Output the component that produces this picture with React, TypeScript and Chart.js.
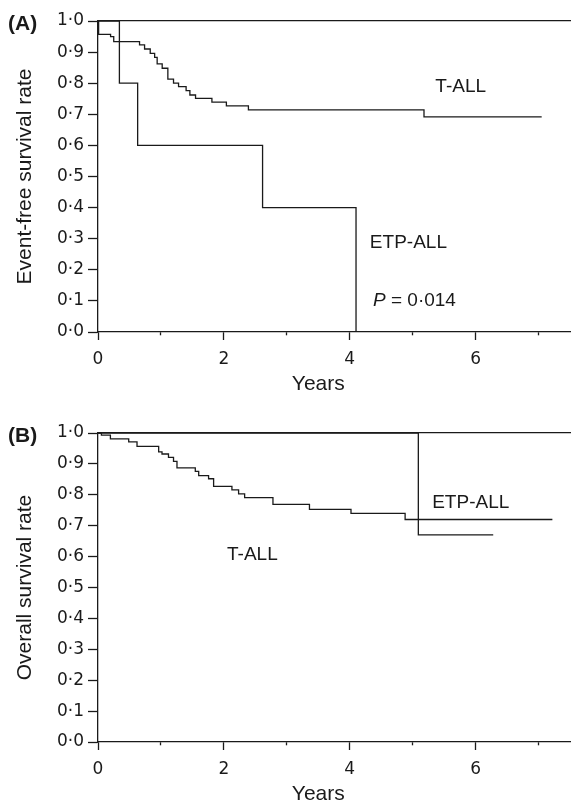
import React, { useEffect, useRef } from 'react';
import { Chart, registerables } from 'chart.js';

Chart.register(...registerables);

// ---------- data ----------
const xTickValues = [0, 1, 2, 3, 4, 5, 6, 7];
const xTickLabels = ['0', '', '2', '', '4', '', '6', ''];
const yTickValues = [0, 0.1, 0.2, 0.3, 0.4, 0.5, 0.6, 0.7, 0.8, 0.9, 1.0];
const yTickLabels = ['0·0', '0·1', '0·2', '0·3', '0·4', '0·5', '0·6', '0·7', '0·8', '0·9', '1·0'];

// (A) Event-free survival
const efsTallTimes = [0, 0.01, 0.2, 0.25, 0.66, 0.74, 0.83, 0.9, 0.94, 1.02, 1.11, 1.2, 1.28, 1.4, 1.46, 1.55, 1.81, 2.04, 2.39, 5.18, 7.05];
const efsTallValues = [1, 0.957, 0.95, 0.934, 0.923, 0.91, 0.896, 0.883, 0.862, 0.848, 0.813, 0.8, 0.789, 0.776, 0.762, 0.751, 0.739, 0.727, 0.714, 0.692, 0.692];
const efsEtpTimes = [0, 0.34, 0.63, 2.615, 4.1];
const efsEtpValues = [1, 0.8, 0.6, 0.4, 0];

// (B) Overall survival
const osTallTimes = [0, 0.054, 0.197, 0.488, 0.62, 0.964, 1.017, 1.12, 1.2, 1.255, 1.546, 1.6, 1.757, 1.837, 2.128, 2.234, 2.33, 2.78, 3.36, 4.02, 4.88, 7.22];
const osTallValues = [1, 0.993, 0.981, 0.971, 0.957, 0.939, 0.932, 0.921, 0.908, 0.887, 0.876, 0.862, 0.852, 0.827, 0.816, 0.803, 0.791, 0.769, 0.753, 0.74, 0.72, 0.72];
const osEtpTimes = [0, 5.09, 6.28];
const osEtpValues = [1, 0.67, 0.67];

const pValueText = '0·014';

// ---------- helpers ----------
const INK = '#1a1a1a';
const SANS = '"Liberation Sans", Arial, sans-serif';
const TICKFONT = '"DejaVu Sans", Verdana, sans-serif';

const toPoints = (t: number[], v: number[]) => t.map((x, i) => ({ x, y: v[i] }));

type Note = { text: string; x: number; y: number; italicPrefix?: string };

type PanelProps = {
  top: number;
  height: number;
  padTop: number;
  plotBottom: number;
  letter: string;
  letterY: number;
  yTitle: string;
  series: { times: number[]; values: number[] }[];
  notes: Note[];
};

function Panel(props: PanelProps) {
  const ref = useRef<HTMLCanvasElement | null>(null);
  useEffect(() => {
    if (!ref.current) return;
    const xAxisHeight = props.height - props.plotBottom;
    const textPlugin = {
      id: 'notes',
      afterDraw(chart: any) {
        const { ctx, scales } = chart;
        const xs = scales.x;
        const ys = scales.y;
        ctx.save();
        ctx.fillStyle = INK;
        ctx.textBaseline = 'middle';
        // panel letter
        ctx.font = `bold 21px ${SANS}`;
        ctx.textAlign = 'left';
        ctx.fillText(props.letter, 8, props.letterY);
        // curve notes
        ctx.font = `19px ${SANS}`;
        props.notes.forEach((n) => {
          let px = xs.getPixelForValue(n.x);
          const py = ys.getPixelForValue(n.y);
          if (n.italicPrefix) {
            ctx.font = `italic 19px ${SANS}`;
            ctx.fillText(n.italicPrefix, px, py);
            px += ctx.measureText(n.italicPrefix).width;
            ctx.font = `19px ${SANS}`;
          }
          ctx.fillText(n.text, px, py);
        });
        // x axis title
        ctx.font = `21px ${SANS}`;
        ctx.textAlign = 'center';
        ctx.fillText('Years', xs.getPixelForValue(3.5), chart.chartArea.bottom + 52);
        ctx.restore();
      },
    };
    const chart = new Chart(ref.current, {
      type: 'line',
      data: {
        datasets: props.series.map((s) => ({
          data: toPoints(s.times, s.values),
          stepped: 'before' as const,
          borderColor: INK,
          borderWidth: 1.3,
          pointRadius: 0,
          fill: false,
        })),
      },
      options: {
        animation: false,
        responsive: false,
        maintainAspectRatio: false,
        devicePixelRatio: 1,
        layout: { padding: { top: props.padTop, right: 1, left: 0, bottom: 0 } },
        plugins: {
          legend: { display: false },
          tooltip: { enabled: false },
          title: { display: false },
        },
        scales: {
          x: {
            type: 'linear',
            position: 'bottom',
            min: 0,
            max: 7.5,
            afterBuildTicks: (s: any) => {
              s.ticks = xTickValues.map((v) => ({ value: v }));
            },
            afterFit: (s: any) => {
              s.height = xAxisHeight;
            },
            ticks: {
              autoSkip: false,
              maxRotation: 0,
              padding: 9,
              color: INK,
              font: { family: TICKFONT, size: 17 },
              callback: (_v: any, i: number) => xTickLabels[i],
            },
            grid: {
              drawOnChartArea: false,
              drawTicks: true,
              tickLength: 8,
              tickColor: INK,
              tickWidth: 1.3,
              tickBorderDash: (ctx: any) => (ctx.tick && ctx.tick.value % 2 === 1 ? [3, 40] : []),
            },
            border: { display: true, color: INK, width: 1.3 },
          },
          x2: {
            type: 'linear',
            position: 'top',
            min: 0,
            max: 7.5,
            afterFit: (s: any) => {
              s.height = 0;
            },
            ticks: { display: false },
            grid: { drawOnChartArea: false, drawTicks: false },
            border: { display: true, color: INK, width: 1.3 },
          },
          y: {
            type: 'linear',
            min: 0,
            max: 1,
            afterBuildTicks: (s: any) => {
              s.ticks = yTickValues.map((v) => ({ value: v }));
            },
            afterFit: (s: any) => {
              s.width = 98;
            },
            ticks: {
              autoSkip: false,
              padding: 4,
              color: INK,
              font: { family: TICKFONT, size: 17 },
              callback: (_v: any, i: number) => yTickLabels[i],
            },
            grid: {
              drawOnChartArea: false,
              drawTicks: true,
              tickLength: 10,
              tickColor: INK,
              tickWidth: 1.3,
            },
            border: { display: true, color: INK, width: 1.3 },
            title: {
              display: true,
              text: props.yTitle,
              color: INK,
              font: { family: SANS, size: 21 },
              padding: { top: 13, bottom: 0 },
            },
          },
        },
      } as any,
      plugins: [textPlugin],
    });
    return () => chart.destroy();
  }, []);
  return (
    <canvas
      ref={ref}
      width={571}
      height={props.height}
      style={{ position: 'absolute', left: 0, top: props.top, width: 571, height: props.height, display: 'block' }}
    />
  );
}

export default function App() {
  return (
    <div style={{ position: 'absolute', left: 0, top: 0, width: 571, height: 806, background: '#fff' }}>
      <Panel
        top={0}
        height={400}
        padTop={21}
        plotBottom={332}
        letter="(A)"
        letterY={24}
        yTitle="Event-free survival rate"
        series={[
          { times: efsTallTimes, values: efsTallValues },
          { times: efsEtpTimes, values: efsEtpValues },
        ]}
        notes={[
          { text: 'T-ALL', x: 5.36, y: 0.788 },
          { text: 'ETP-ALL', x: 4.32, y: 0.286 },
          { text: ' = ' + pValueText, x: 4.37, y: 0.1, italicPrefix: 'P' },
        ]}
      />
      <Panel
        top={400}
        height={406}
        padTop={33}
        plotBottom={342}
        letter="(B)"
        letterY={36}
        yTitle="Overall survival rate"
        series={[
          { times: osTallTimes, values: osTallValues },
          { times: osEtpTimes, values: osEtpValues },
        ]}
        notes={[
          { text: 'ETP-ALL', x: 5.31, y: 0.773 },
          { text: 'T-ALL', x: 2.05, y: 0.605 },
        ]}
      />
    </div>
  );
}
